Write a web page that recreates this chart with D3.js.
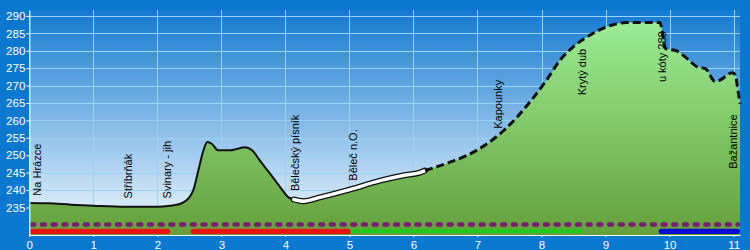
<!DOCTYPE html>
<html>
<head>
<meta charset="utf-8">
<script src="https://cdn.jsdelivr.net/npm/d3@7"></script>
<style>
  body { margin: 0; background: #0b78cf; }
  svg { display: block; }
  text { font-family: "Liberation Sans", Arial, sans-serif; }
</style>
</head>
<body>
<svg id="chart" width="750" height="250"></svg>
<script>
// elevation profile: distance in km, elevation in m
var distKm = [0, 0.3, 0.65, 1.0, 1.5, 2.0, 2.2, 2.35, 2.45, 2.51, 2.56, 2.64, 2.72, 2.78, 2.85,
  2.95, 3.14, 3.24, 3.37, 3.48, 3.60, 3.76, 3.92, 4.05, 4.13, 4.28, 4.54, 4.96, 5.48, 5.84,
  6.10, 6.18, 6.57, 6.83, 7.15, 7.41, 7.62, 7.88, 8.08, 8.29, 8.5, 8.76, 9.02, 9.33, 9.85,
  9.88, 9.93, 10.12, 10.27, 10.43, 10.56, 10.71, 10.79, 10.98, 11.03, 11.06, 11.1];
var elevM = [236.3, 236.2, 235.8, 235.5, 235.2, 235.2, 235.5, 236.0, 237.0, 238.2, 239.9, 245.6, 251.4, 253.8, 253.3,
  251.4, 251.4, 251.8, 252.3, 251.4, 248.5, 244.7, 240.8, 237.9, 237.3, 236.8, 237.9, 239.9, 242.7, 244.2,
  245.0, 245.6, 248.0, 249.9, 253.3, 257.1, 261.0, 266.7, 271.6, 277.3, 281.2, 284.5, 286.9, 288.1, 288.1,
  286.0, 280.7, 279.9, 277.8, 275.4, 274.9, 271.2, 271.6, 273.7, 273.0, 269.6, 264.8];

// surface type sections along the route (km)
var surfaceFrom = [0, 4.13, 6.18];
var surfaceTo = [4.13, 6.18, 11.1];

// place labels
var placeNames = ["Na Hrázce", "Stříbrňák", "Svinary - jih", "Bělečský písník", "Běleč n.O.",
  "Kapounky", "Krytý dub", "u kóty 288", "Bažantnice"];
var placeKm = [0.12, 1.54, 2.15, 4.15, 5.06, 7.32, 8.64, 9.88, 11.0];
var placeElev = [238.4, 237.6, 237.6, 239.7, 242.7, 257.6, 267.2, 271.0, 246.1];

// marked trails below the profile
var trailFrom = [0, 2.52, 5.02, 9.83];
var trailTo = [2.2, 5.02, 8.63, 11.1];
var trailColor = ["red", "red", "green", "blue"];

var xTicks = [0, 1, 2, 3, 4, 5, 6, 7, 8, 9, 10, 11];
var yTicks = [235, 240, 245, 250, 255, 260, 265, 270, 275, 280, 285, 290];

var plotLeft = 29.3, plotRight = 740, plotTop = 10, plotBottom = 235;

var x = d3.scaleLinear().domain([0, 11.1]).range([plotLeft, plotRight]);
var y = d3.scaleLinear().domain([227.1, 291.7]).range([plotBottom, plotTop]);

var svg = d3.select("#chart");
var defs = svg.append("defs");

var sky = defs.append("linearGradient").attr("id", "sky")
  .attr("gradientUnits", "userSpaceOnUse")
  .attr("x1", 0).attr("y1", plotTop).attr("x2", 0).attr("y2", plotBottom);
sky.append("stop").attr("offset", 0).attr("stop-color", "#147ad0");
sky.append("stop").attr("offset", 1).attr("stop-color", "#f5faff");

var grass = defs.append("linearGradient").attr("id", "grass")
  .attr("gradientUnits", "userSpaceOnUse")
  .attr("x1", 0).attr("y1", 16).attr("x2", 0).attr("y2", plotBottom);
grass.append("stop").attr("offset", 0).attr("stop-color", "#9cee98");
grass.append("stop").attr("offset", 0.45).attr("stop-color", "#84cc6c");
grass.append("stop").attr("offset", 1).attr("stop-color", "#64a03c");

svg.append("rect")
  .attr("x", plotLeft).attr("y", plotTop)
  .attr("width", plotRight - plotLeft).attr("height", plotBottom - plotTop)
  .attr("fill", "url(#sky)");

// grid
svg.append("g").selectAll("line")
  .data(yTicks)
  .enter().append("line")
  .attr("x1", plotLeft).attr("x2", plotRight)
  .attr("y1", d => Math.round(y(d)) + 0.5).attr("y2", d => Math.round(y(d)) + 0.5)
  .attr("stroke", "#9ad2f4");

svg.append("g").selectAll("line")
  .data(xTicks.slice(1))
  .enter().append("line")
  .attr("x1", d => Math.round(x(d)) + 0.5).attr("x2", d => Math.round(x(d)) + 0.5)
  .attr("y1", plotTop).attr("y2", plotBottom)
  .attr("stroke", "#9ad2f4");

var pts = distKm.map((d, i) => [d, elevM[i]]);

var area = d3.area()
  .x(d => x(d[0]))
  .y0(plotBottom)
  .y1(d => y(d[1]))
  .curve(d3.curveMonotoneX);

svg.append("path")
  .datum(pts)
  .attr("d", area)
  .attr("fill", "url(#grass)");

var line = d3.line()
  .x(d => x(d[0]))
  .y(d => y(d[1]))
  .curve(d3.curveMonotoneX);

function section(i) {
  return pts.filter(p => p[0] >= surfaceFrom[i] && p[0] <= surfaceTo[i]);
}

// paved part: thin solid line
svg.append("path").datum(section(0)).attr("d", line)
  .attr("fill", "none").attr("stroke", "#111").attr("stroke-width", 2);

// white road with black edge
svg.append("path").datum(section(1)).attr("d", line)
  .attr("fill", "none").attr("stroke", "#111").attr("stroke-width", 6)
  .attr("stroke-linecap", "round");
svg.append("path").datum(section(1)).attr("d", line)
  .attr("fill", "none").attr("stroke", "#fff").attr("stroke-width", 3.5)
  .attr("stroke-linecap", "round");

// unpaved: dashed
svg.append("path").datum(section(2)).attr("d", line)
  .attr("fill", "none").attr("stroke", "#111").attr("stroke-width", 3)
  .attr("stroke-dasharray", "8,4");

// trail markers
svg.append("line")
  .attr("x1", x(0) + 2).attr("x2", plotRight - 2)
  .attr("y1", 224.5).attr("y2", 224.5)
  .attr("stroke", "#7a1e72").attr("stroke-width", 4.5)
  .attr("stroke-linecap", "round")
  .attr("stroke-dasharray", "3,7.7");

var trailFill = { red: "#e81414", green: "#22c81e", blue: "#0a0ad2" };
svg.append("g").selectAll("rect")
  .data(trailFrom)
  .enter().append("rect")
  .attr("x", d => x(d))
  .attr("width", (d, i) => x(trailTo[i]) - x(d))
  .attr("y", (d, i) => trailColor[i] == "green" ? 229 : 228.8)
  .attr("height", (d, i) => trailColor[i] == "green" ? 4 : 5.2)
  .attr("rx", (d, i) => trailColor[i] == "green" ? 0 : 2.5)
  .attr("fill", (d, i) => trailFill[trailColor[i]]);

// place labels
svg.append("g").selectAll("text")
  .data(placeNames)
  .enter().append("text")
  .attr("transform", (d, i) => "translate(" + x(placeKm[i]) + "," + y(placeElev[i]) + ") rotate(-90)")
  .attr("dy", "0.35em")
  .attr("font-size", 11)
  .attr("fill", "#000")
  .text(d => d);

// axes
var yAxis = d3.axisLeft(y).tickValues(yTicks).tickSize(3).tickSizeOuter(0).tickPadding(1);
var gy = svg.append("g").attr("transform", "translate(" + plotLeft + ",0)").call(yAxis);

var xAxis = d3.axisBottom(x).tickValues(xTicks).tickSize(2).tickSizeOuter(0).tickPadding(4);
var gx = svg.append("g").attr("transform", "translate(0," + plotBottom + ")").call(xAxis);

[gx, gy].forEach(g => {
  g.select(".domain").attr("stroke", "#fff").attr("stroke-width", 1.2);
  g.selectAll(".tick line").attr("stroke", "#fff");
  g.selectAll(".tick text").attr("fill", "#fff")
    .attr("font-size", 11.5)
    .attr("font-family", "\"Liberation Sans\", Arial, sans-serif");
});
</script>
</body>
</html>
